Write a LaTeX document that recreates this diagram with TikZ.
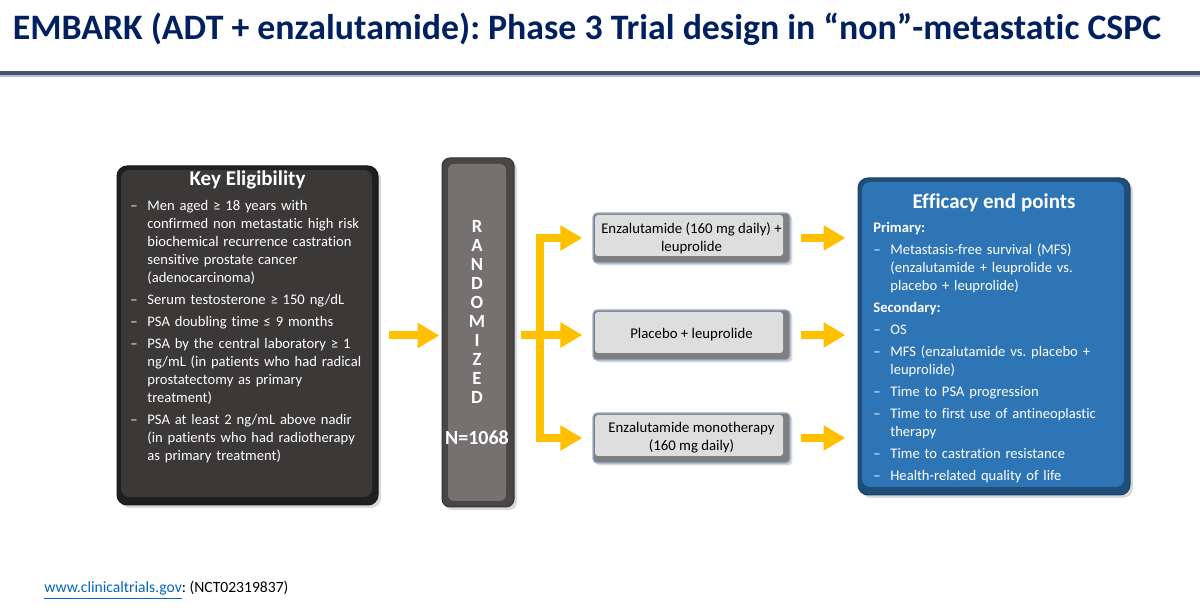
\documentclass[tikz,border=0pt]{standalone}
\usepackage{fontspec}
\setmainfont{Carlito}[Ligatures={NoCommon,NoRare}]
\usetikzlibrary{arrows.meta,positioning,shadows}

\definecolor{titlenavy}{HTML}{002060}
\definecolor{rulegray}{HTML}{44546A}
\definecolor{rulelight}{HTML}{B4BDCB}
\definecolor{keyface}{HTML}{3B3838}
\definecolor{keyrim}{HTML}{201E1E}
\definecolor{randface}{HTML}{767171}
\definecolor{randrim}{HTML}{4A4646}
\definecolor{armface}{HTML}{DEDEDE}
\definecolor{armrim}{HTML}{7F7F7F}
\definecolor{armline}{HTML}{9DB0D3}
\definecolor{endface}{HTML}{2E75B6}
\definecolor{endrim}{HTML}{1F4E79}
\definecolor{flowgold}{HTML}{FFC000}
\definecolor{linkblue}{HTML}{0563C1}

\newcommand{\dashitem}[1]{\par\hangindent=8.5pt\hangafter=1\noindent\makebox[8.5pt][l]{--}#1}

\frenchspacing

\begin{document}
\begin{tikzpicture}[
  x=0.5pt,
  y=-0.5pt,
  panel/.style 2 args={
    fill=#2,
    draw=#2!85!black,
    line width=0.5pt,
    rounded corners=5pt,
    inner sep=0pt,
    drop shadow={shadow xshift=1.5pt,shadow yshift=-1.5pt,opacity=0.3},
    path picture={
      \fill[#1,rounded corners=4pt]
        ([shift={(4,4)}]path picture bounding box.north west) rectangle
        ([shift={(-6,-8)}]path picture bounding box.south east);
    }
  },
  panel title/.style={
    font=\fontsize{10.5}{12}\selectfont\bfseries,
    text=white,
    inner sep=0pt
  },
  panel list/.style={
    font=\fontsize{7.3}{9}\selectfont,
    text=white,
    inner sep=0pt
  },
  randbar/.style={
    fill=randrim,
    draw=randrim!70!black,
    line width=0.5pt,
    rounded corners=4pt,
    minimum width=36pt,
    minimum height=174.5pt,
    inner sep=0pt,
    drop shadow={shadow xshift=1.5pt,shadow yshift=-1.5pt,opacity=0.3},
    path picture={
      \fill[randface,rounded corners=3pt]
        ([shift={(6,6)}]path picture bounding box.north west) rectangle
        ([shift={(-8,-6)}]path picture bounding box.south east);
    }
  },
  rand text/.style={
    font=\fontsize{9.3}{9.5}\selectfont\bfseries,
    text=white,
    align=center,
    inner sep=0pt
  },
  armbox/.style={
    fill=armrim,
    draw=armline,
    line width=0.6pt,
    rounded corners=2pt,
    minimum width=98.5pt,
    minimum height=25pt,
    inner sep=0pt,
    align=center,
    font=\fontsize{7.4}{9}\selectfont,
    drop shadow={shadow xshift=1.2pt,shadow yshift=-1.2pt,opacity=0.3},
    path picture={
      \fill[armface,rounded corners=1.5pt]
        ([shift={(2,2)}]path picture bounding box.north west) rectangle
        ([shift={(-7,-7)}]path picture bounding box.south east);
    }
  },
  flow arrow/.style={
    draw=flowgold,
    line width=4pt,
    -{Triangle[width=12pt,length=11pt]}
  }
]
\useasboundingbox (0,0) rectangle (1200,608);

\node[font=\fontsize{17.9}{21}\selectfont\bfseries,text=titlenavy] (slide-title)
  at (587,29) {EMBARK (ADT + enzalutamide): Phase 3 Trial design in “non”-metastatic CSPC};
\fill[rulegray] (0,71) rectangle (1200,75);
\fill[rulelight] (0,75) rectangle (1200,77);

\node[panel={keyface}{keyrim},minimum width=130.5pt,minimum height=169.5pt] (key-box)
  at (247.5,335.5) {};
\node[panel title] (key-title) at (247.5,180) {Key Eligibility};
\node[panel list,text width=121pt,anchor=north west] (key-list) at (130,188) {%
  \raggedright\setlength{\parskip}{2pt}%
  \dashitem{Men aged ≥ 18 years with\newline confirmed non metastatic high risk\newline biochemical recurrence castration\newline sensitive prostate cancer\newline (adenocarcinoma)}
  \dashitem{Serum testosterone ≥ 150 ng/dL}
  \dashitem{PSA doubling time ≤ 9 months}
  \dashitem{PSA by the central laboratory ≥ 1\newline ng/mL (in patients who had radical\newline prostatectomy as primary\newline treatment)}
  \dashitem{PSA at least 2 ng/mL above nadir\newline (in patients who had radiotherapy\newline as primary treatment)}\par
};

\node[randbar] (rand-bar) at (478,332.5) {};
\node[rand text] (rand-word) at (477,312) {R\\A\\N\\D\\O\\M\\I\\Z\\E\\D};
\node[rand text,font=\fontsize{10}{12}\selectfont\bfseries] (rand-n) at (477,438) {N=1068};

\node[armbox] (arm-a) at (691.5,238) {Enzalutamide (160 mg daily) +\\leuprolide};
\node[armbox] (arm-b) at (691.5,335) {Placebo + leuprolide};
\node[armbox] (arm-c) at (691.5,438) {Enzalutamide monotherapy\\(160 mg daily)};

\node[panel={endface}{endrim},minimum width=136pt,minimum height=158.5pt] (end-box)
  at (994,336.5) {};
\node[panel title] (end-title) at (994,203) {Efficacy end points};
\node[panel list,text width=124pt,anchor=north west] (end-list) at (873,222) {%
  \raggedright\setlength{\parskip}{2pt}%
  \noindent\textbf{Primary:}
  \dashitem{Metastasis-free survival (MFS)\newline (enzalutamide + leuprolide vs.\newline placebo + leuprolide)}
  \par\noindent\textbf{Secondary:}
  \dashitem{OS}
  \dashitem{MFS (enzalutamide vs. placebo +\newline leuprolide)}
  \dashitem{Time to PSA progression}
  \dashitem{Time to first use of antineoplastic\newline therapy}
  \dashitem{Time to castration resistance}
  \dashitem{Health-related quality of life}\par
};

\coordinate (split) at (540,335);

\draw[flow arrow,shorten <=5pt,shorten >=1pt] (key-box.east) -- (key-box.east -| rand-bar.west);
\draw[draw=flowgold,line width=4pt,shorten <=3pt] (rand-bar.east |- split) -- (split);
\draw[flow arrow,shorten >=5pt] (split) |- (arm-a.west);
\draw[flow arrow,shorten >=5pt] (split) -- (arm-b.west);
\draw[flow arrow,shorten >=5pt] (split) |- (arm-c.west);

\draw[flow arrow,shorten <=5pt,shorten >=6pt] (arm-a.east) -- (arm-a.east -| end-box.west);
\draw[flow arrow,shorten <=5pt,shorten >=6pt] (arm-b.east) -- (arm-b.east -| end-box.west);
\draw[flow arrow,shorten <=5pt,shorten >=6pt] (arm-c.east) -- (arm-c.east -| end-box.west);

\node[anchor=base west,inner sep=0pt,font=\fontsize{7.8}{9}\selectfont] (source)
  at (44,593) {\textcolor{linkblue}{\underline{www.clinicaltrials.gov}}: (NCT02319837)};

\end{tikzpicture}
\end{document}
